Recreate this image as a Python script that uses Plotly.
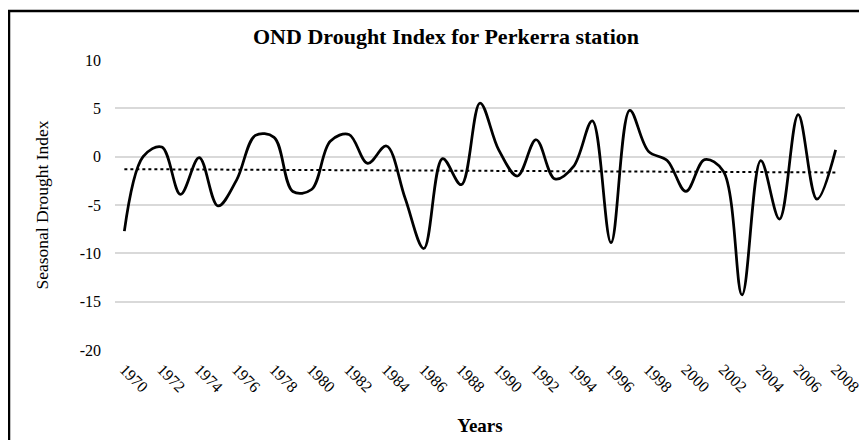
import numpy as np
import plotly.graph_objects as go

years = list(range(1970, 2009))
sdi = [-7.7, 0.0, 1.0, -3.9, -0.1, -5.1, -2.4, 2.2, 2.0, -3.6, -3.4, 1.6, 2.3, -0.7, 1.1,
       -4.3, -9.5, -0.2, -2.9, 5.55, 0.7, -2.0, 1.75, -2.3, -1.0, 3.7, -8.9, 4.8, 0.55,
       -0.4, -3.6, -0.3, -1.5, -14.3, -0.4, -6.45, 4.35, -4.4, 0.7]
tick_years = list(range(1970, 2009, 2))
y_ticks = [-20, -15, -10, -5, 0, 5, 10]

coef = np.polyfit(years, sdi, 1)
trend = [coef[0] * y + coef[1] for y in years]

font = "Liberation Serif, Times New Roman, serif"
fig = go.Figure()
fig.add_trace(go.Scatter(x=years, y=sdi, mode="lines",
                         line=dict(color="black", width=2.75, shape="spline", smoothing=1.0),
                         showlegend=False))
fig.add_trace(go.Scatter(x=years, y=trend, mode="lines",
                         line=dict(color="black", width=2, dash="dot"),
                         showlegend=False))
fig.update_layout(
    width=859, height=432,
    margin=dict(l=107, r=22, t=52, b=90, autoexpand=False),
    paper_bgcolor="white", plot_bgcolor="white",
    font=dict(family=font, color="black", size=16),
    title=dict(text="<b>OND Drought Index for Perkerra station</b>", xref="container",
               x=0.5099, xanchor="center", yref="container", y=0.935, yanchor="middle",
               font=dict(size=22, family=font)),
    xaxis=dict(range=[1969.5, 2008.5], tickvals=tick_years, ticktext=[str(t) for t in tick_years],
               tickangle=45, showgrid=False, zeroline=False, showline=False, ticks="",
               ticklabelstandoff=6, automargin=False, tickfont=dict(size=16),
               title=dict(text="<b>Years</b>", font=dict(size=19), standoff=24)),
    yaxis=dict(range=[-20, 10], tickvals=y_ticks, ticktext=[str(t) for t in y_ticks],
               showgrid=True, gridcolor="#d9d9d9", gridwidth=1.5,
               zeroline=False, showline=False, ticks="", ticklabelstandoff=13, automargin=False,
               tickfont=dict(size=16),
               title=dict(text="Seasonal Drought Index", font=dict(size=17.5), standoff=26)),
    shapes=[dict(type="rect", xref="paper", yref="paper", x0=-0.1452, x1=1.1, y0=-0.4, y1=1.169,
                 line=dict(color="black", width=2.5))],
)
fig.write_html("out.html")
